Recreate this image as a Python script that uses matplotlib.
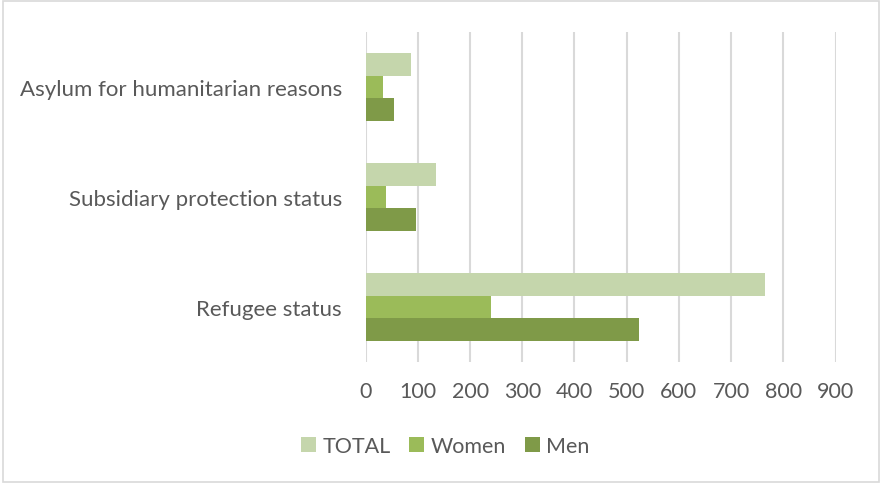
import numpy as np
import matplotlib.pyplot as plt
from matplotlib.patches import Rectangle

plt.rcParams['font.family'] = ['Lato', 'DejaVu Sans']

categories = ["Refugee status", "Subsidiary protection status", "Asylum for humanitarian reasons"]
total = [765, 134, 87]
women = [241, 38, 33]
men = [524, 96, 54]
x_ticks = [0, 100, 200, 300, 400, 500, 600, 700, 800, 900]

text_col = "#595959"
grid_col = "#D9D9D9"
colors = {"TOTAL": "#C5D6AC", "Women": "#9BBB59", "Men": "#7F9A48"}

fig = plt.figure(figsize=(8.82, 4.85), dpi=100)
ax = fig.add_axes([0.4146, 0.2515, 0.5327, 0.6805])

y = np.arange(len(categories))
h = 0.207
ax.barh(y + h, total, height=h, color=colors["TOTAL"], label="TOTAL", zorder=3)
ax.barh(y, women, height=h, color=colors["Women"], label="Women", zorder=3)
ax.barh(y - h, men, height=h, color=colors["Men"], label="Men", zorder=3)

ax.set_xlim(0, 900)
ax.set_ylim(-0.5, 2.5)
ax.set_xticks(x_ticks)
ax.set_yticks(y)
ax.set_yticklabels(categories)
ax.xaxis.grid(True, color=grid_col, linewidth=1.5, zorder=0)
for s in ax.spines.values():
    s.set_visible(False)
ax.tick_params(axis='both', length=0, labelsize=15.5, labelcolor=text_col)
ax.tick_params(axis='y', labelsize=16, pad=17)
ax.tick_params(axis='x', pad=14)

ax.legend(loc='center', bbox_to_anchor=(0.505, 0.078), bbox_transform=fig.transFigure,
          ncol=3, frameon=False, fontsize=15.5, labelcolor=text_col,
          handlelength=0.7, handleheight=0.7, handletextpad=0.3, columnspacing=0.85)

# light frame around the whole chart
fig.patches.append(Rectangle((0.003, 0.004), 0.994, 0.992, transform=fig.transFigure,
                             fill=False, edgecolor=grid_col, linewidth=1.2))

fig.savefig("out.png", dpi=100)
